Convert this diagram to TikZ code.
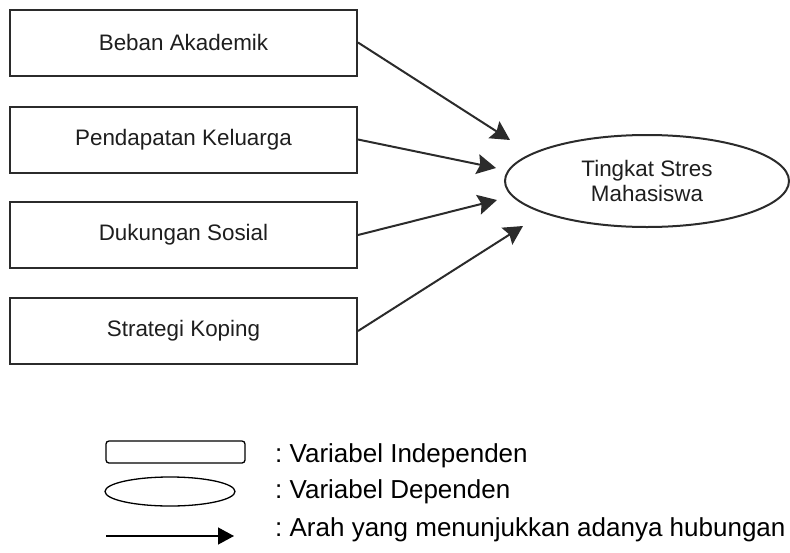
\documentclass[tikz,border=0pt]{standalone}
\usepackage{fontspec}
\setmainfont{Liberation Sans}
\usetikzlibrary{shapes.geometric,arrows.meta}
\frenchspacing
\definecolor{ln}{HTML}{2B2B2B}
\definecolor{tx}{HTML}{1E1E1E}
\tikzset{
  varbox/.style={draw=ln, line width=2pt, minimum width=347pt, minimum height=66pt, inner sep=0pt,
    font=\fontsize{22.4}{25}\selectfont, text=tx},
  depell/.style={draw=ln, line width=2pt, ellipse, minimum width=284pt, minimum height=92pt, inner sep=0pt,
    font=\fontsize{22.4}{25}\selectfont, text=tx, align=center},
  rel/.style={draw=ln, line width=2pt, -{Stealth[length=19pt,width=20pt,inset=3pt]}},
  legtext/.style={anchor=base west, inner sep=0pt, font=\fontsize{26}{30}\selectfont, text=black},
  legline/.style={draw=black, line width=1.3pt}
}
\begin{document}
\begin{tikzpicture}[x=1pt,y=-1pt]
\useasboundingbox (0,0) rectangle (790,552);
\node[varbox] (b1) at (183.5,42.5) {Beban Akademik};
\node[varbox] (b2) at (183.5,139.5) {Pendapatan Keluarga};
\node[varbox] (b3) at (183.5,235) {Dukungan Sosial};
\node[varbox] (b4) at (183.5,331) {Strategi Koping};
\node[depell] (y) at (647,181) {Tingkat Stres\\Mahasiswa};
\coordinate (t1) at (510,140);
\coordinate (t2) at (496,168);
\coordinate (t3) at (497,200);
\coordinate (t4) at (523,226);
\draw[rel] (b1.east) -- (t1);
\draw[rel] (b2.east) -- (t2);
\draw[rel] (b3.east) -- (t3);
\draw[rel] (b4.east) -- (t4);
% legend
\node[legline, rectangle, rounded corners=3pt, minimum width=139pt, minimum height=22pt, inner sep=0pt] (lr) at (175.5,452) {};
\node[legline, ellipse, minimum width=130pt, minimum height=29pt, inner sep=0pt] (le) at (170,491.5) {};
\coordinate (la1) at (106,536);
\coordinate (la2) at (234,536);
\draw[legline, -{Triangle[length=16pt,width=17pt]}] (la1) -- (la2);
\node[legtext] (l1) at (275,462) {: Variabel Independen};
\node[legtext] (l2) at (275,498) {: Variabel Dependen};
\node[legtext] (l3) at (275,536) {: Arah yang menunjukkan adanya hubungan};
\end{tikzpicture}
\end{document}
